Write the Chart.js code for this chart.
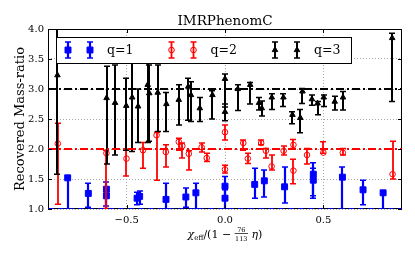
<!DOCTYPE html>
<html>
<head>
<meta charset="utf-8">
<script src="https://cdn.jsdelivr.net/npm/chart.js@4.4.0/dist/chart.umd.min.js"></script>
<style>
  html, body { margin: 0; padding: 0; background: #fff; }
</style>
</head>
<body>
<canvas id="massRatio" width="415" height="257"></canvas>
<script>
/* ===Recovered mass-ratio vs effective spin (IMRPhenomC)===
 * one array per quantity: x position, recovered value, lower / upper end of the error bar
 */
const xTicks = [-0.5, 0.0, 0.5];
const yTicks = [1.0, 1.5, 2.0, 2.5, 3.0, 3.5, 4.0];
const seriesNames = ['q=1', 'q=2', 'q=3'];
const trueRatios = [1.0, 2.0, 3.0];

// q=1
const q1X  = [-0.80, -0.695, -0.603, -0.603, -0.447, -0.434, -0.300, -0.199, -0.148, 0.0, 0.0, 0.151, 0.200, 0.303, 0.449, 0.449, 0.597, 0.702, 0.804];
const q1Y  = [1.52, 1.26, 1.33, 1.22, 1.18, 1.21, 1.16, 1.20, 1.27, 1.38, 1.18, 1.41, 1.47, 1.37, 1.58, 1.48, 1.53, 1.32, 1.27];
const q1Lo = [1.00, 1.03, 1.00, 1.05, 1.07, 1.08, 1.00, 1.03, 1.00, 1.15, 1.00, 1.18, 1.20, 1.10, 1.18, 1.22, 1.00, 1.07, 1.00];
const q1Hi = [1.54, 1.43, 1.45, 1.33, 1.28, 1.30, 1.43, 1.35, 1.43, 1.54, 1.32, 1.68, 1.65, 1.70, 1.77, 1.68, 1.70, 1.48, 1.30];

// q=2
const q2X  = [-0.850, -0.603, -0.501, -0.417, -0.348, -0.301, -0.235, -0.217, -0.184, -0.119, -0.093, 0.0, 0.0, 0.093, 0.116, 0.184, 0.208, 0.237, 0.298, 0.348, 0.348, 0.417, 0.500, 0.599, 0.852];
const q2Y  = [2.09, 1.93, 1.84, 1.98, 2.23, 1.95, 2.12, 2.05, 1.92, 2.03, 1.85, 2.28, 1.66, 2.10, 1.84, 2.10, 1.97, 1.71, 1.97, 2.07, 1.64, 1.90, 1.94, 1.94, 1.58];
const q2Lo = [1.08, 1.01, 1.55, 1.68, 1.48, 1.70, 1.98, 1.85, 1.65, 1.95, 1.79, 2.15, 1.60, 1.98, 1.76, 2.07, 1.85, 1.65, 1.90, 2.01, 1.42, 1.75, 1.93, 1.90, 1.50];
const q2Hi = [2.43, 1.98, 2.00, 2.11, 2.28, 2.07, 2.18, 2.10, 1.97, 2.10, 1.93, 2.40, 1.73, 2.15, 1.93, 2.15, 2.01, 1.90, 2.05, 2.16, 1.83, 2.01, 2.12, 2.01, 2.13];

// q=3
const q3X  = [-0.852, -0.602, -0.559, -0.502, -0.472, -0.442, -0.393, -0.385, -0.342, -0.298, -0.235, -0.187, -0.173, -0.128, -0.064, 0.0, 0.0, 0.065, 0.128, 0.173, 0.187, 0.238, 0.297, 0.343, 0.383, 0.394, 0.442, 0.471, 0.502, 0.558, 0.600, 0.850];
const q3Y  = [3.23, 2.85, 2.77, 2.72, 2.86, 2.71, 3.07, 2.93, 2.94, 2.75, 2.82, 3.04, 2.90, 2.68, 2.90, 3.17, 2.62, 3.00, 3.07, 2.77, 2.68, 2.86, 2.86, 2.57, 2.52, 2.96, 2.83, 2.76, 2.86, 2.79, 2.86, 3.85];
const q3Lo = [1.58, 1.75, 1.90, 1.98, 1.96, 2.11, 2.11, 2.13, 2.29, 2.29, 2.40, 2.48, 2.46, 2.46, 2.50, 2.70, 2.47, 2.64, 2.75, 2.65, 2.55, 2.66, 2.71, 2.42, 2.27, 2.76, 2.73, 2.57, 2.71, 2.65, 2.65, 2.79];
const q3Hi = [4.60, 3.38, 3.40, 3.18, 3.45, 3.00, 3.43, 3.40, 3.40, 2.94, 3.07, 3.18, 3.12, 2.86, 2.97, 3.25, 2.75, 3.07, 3.11, 2.86, 2.80, 2.92, 2.92, 2.62, 2.66, 3.01, 2.90, 2.79, 2.90, 2.88, 2.96, 3.93];

const X_MIN = -0.9, X_MAX = 0.9;
const SERIF = '"DejaVu Serif", serif';

function points(xs, ys) {
    return xs.map((x, i) => ({x: x, y: ys[i]}));
}

function flatLine(level) {
    return [{x: X_MIN, y: level}, {x: X_MAX, y: level}];
}

function fmtTick(v) {
    const s = Math.abs(v).toFixed(1);
    return v < 0 ? '\u2212' + s : s;
}

function errorBar(ctx, x, yLo, yHi, color, lw, cap) {
    ctx.strokeStyle = color;
    ctx.lineWidth = lw;
    ctx.beginPath();
    ctx.moveTo(x, yLo); ctx.lineTo(x, yHi);
    ctx.stroke();
    ctx.lineWidth = 1.5;
    ctx.beginPath();
    ctx.moveTo(x - cap, yLo); ctx.lineTo(x + cap, yLo);
    ctx.moveTo(x - cap, yHi); ctx.lineTo(x + cap, yHi);
    ctx.stroke();
}

function marker(ctx, ds, x, y) {
    ctx.save();
    ctx.fillStyle = ds.pointBackgroundColor;
    ctx.strokeStyle = ds.pointBorderColor;
    ctx.lineWidth = ds.pointBorderWidth;
    Chart.helpers.drawPoint(ctx, {
        pointStyle: ds.pointStyle, radius: ds.pointRadius, rotation: 0, borderWidth: ds.pointBorderWidth
    }, x, y);
    ctx.restore();
}

const q1Set = {
    label: seriesNames[0], data: points(q1X, q1Y), errLo: q1Lo, errHi: q1Hi,
    pointStyle: 'rect', pointRadius: 4.2, pointBackgroundColor: '#0000ff', pointBorderColor: '#0000ff',
    pointBorderWidth: 1, errColor: '#0000ff', errWidth: 2.2, order: 6
};
const q2Set = {
    label: seriesNames[1], data: points(q2X, q2Y), errLo: q2Lo, errHi: q2Hi,
    pointStyle: 'circle', pointRadius: 2.8, pointBackgroundColor: 'rgba(0,0,0,0)', pointBorderColor: '#ff0000',
    pointBorderWidth: 1, errColor: '#ff0000', errWidth: 1.8, order: 5
};
const q3Set = {
    label: seriesNames[2], data: points(q3X, q3Y), errLo: q3Lo, errHi: q3Hi,
    pointStyle: 'triangle', pointRadius: 3.2, pointBackgroundColor: '#000000', pointBorderColor: '#000000',
    pointBorderWidth: 1, errColor: '#000000', errWidth: 2, order: 4
};
const lineColors = ['#0000cc', '#ff0000', '#000000'];
const lineDashes = [[6, 4], [8, 3, 2, 3], [8, 3, 2, 3]];
const refSets = trueRatios.map((lvl, i) => ({
    label: 'true q=' + lvl, data: flatLine(lvl), showLine: true, pointRadius: 0,
    borderColor: lineColors[i], borderWidth: 2, borderDash: lineDashes[i], order: 3 - i
}));

const chartDecor = {
    id: 'chartDecor',
    beforeDatasetsDraw(chart) {
        const a = chart.chartArea, ctx = chart.ctx;
        ctx.save();
        ctx.strokeStyle = '#000';
        ctx.lineWidth = 1;
        ctx.strokeRect(a.left + 0.5, a.top + 0.5, a.right - a.left - 1, a.bottom - a.top - 1);
        ctx.restore();
    },
    beforeDatasetDraw(chart, args) {
        const ds = chart.data.datasets[args.index];
        if (!ds.errLo) return;
        const ctx = chart.ctx, a = chart.chartArea;
        const xs = chart.scales.x, ys = chart.scales.y;
        ctx.save();
        ctx.beginPath();
        ctx.rect(a.left, a.top, a.right - a.left, a.bottom - a.top);
        ctx.clip();
        ds.data.forEach((p, i) => {
            const px = Math.round(xs.getPixelForValue(p.x));
            errorBar(ctx, px, ys.getPixelForValue(ds.errLo[i]), ys.getPixelForValue(ds.errHi[i]), ds.errColor, ds.errWidth, 3);
        });
        ctx.restore();
    },
    afterDraw(chart) {
        const ctx = chart.ctx, a = chart.chartArea;
        const xs = chart.scales.x, ys = chart.scales.y;
        ctx.save();

        // inward ticks on all four sides
        ctx.strokeStyle = '#000';
        ctx.lineWidth = 1;
        ctx.beginPath();
        xTicks.forEach(v => {
            const px = Math.round(xs.getPixelForValue(v)) + 0.5;
            ctx.moveTo(px, a.bottom); ctx.lineTo(px, a.bottom - 4);
            ctx.moveTo(px, a.top); ctx.lineTo(px, a.top + 4);
        });
        yTicks.forEach(v => {
            const py = Math.round(ys.getPixelForValue(v)) + 0.5;
            ctx.moveTo(a.left, py); ctx.lineTo(a.left + 4, py);
            ctx.moveTo(a.right, py); ctx.lineTo(a.right - 4, py);
        });
        ctx.stroke();

        // title
        ctx.fillStyle = '#000';
        ctx.font = '13.5px ' + SERIF;
        ctx.textAlign = 'center';
        ctx.textBaseline = 'alphabetic';
        ctx.fillText('IMRPhenomC', (a.left + a.right) / 2, 24.5);

        // y label
        ctx.save();
        ctx.translate(24, (a.top + a.bottom) / 2);
        ctx.rotate(-Math.PI / 2);
        ctx.font = '13px ' + SERIF;
        ctx.fillText('Recovered Mass-ratio', 0, 0);
        ctx.restore();

        // x label: chi_eff / (1 - 76/113 eta)
        const base = 237.5;
        const big = '11px ' + SERIF, ital = 'italic 11px ' + SERIF, small = '7px ' + SERIF, tiny = '6.5px ' + SERIF;
        const parts = [
            {t: '\u03c7', f: ital, dy: 0},
            {t: 'eff', f: small, dy: 2.5},
            {t: '/(1 \u2212 ', f: big, dy: 0},
            {num: '76', den: '113', f: tiny},
            {t: ' \u03b7', f: ital, dy: 0},
            {t: ')', f: big, dy: 0}
        ];
        let total = 0;
        parts.forEach(p => {
            ctx.font = p.f;
            p.w = p.num ? Math.max(ctx.measureText(p.num).width, ctx.measureText(p.den).width) + 1 : ctx.measureText(p.t).width;
            total += p.w;
        });
        let cx = (a.left + a.right) / 2 - total / 2;
        ctx.textAlign = 'left';
        parts.forEach(p => {
            ctx.font = p.f;
            if (p.num) {
                ctx.textAlign = 'center';
                ctx.fillText(p.num, cx + p.w / 2, base - 5.5);
                ctx.fillText(p.den, cx + p.w / 2, base + 3);
                ctx.fillRect(cx, base - 4.5, p.w, 0.7);
                ctx.textAlign = 'left';
            } else {
                ctx.fillText(p.t, cx, base + p.dy);
            }
            cx += p.w;
        });

        // legend
        const lx = 56, ly = 37, lw = 295, lh = 26, step = 103.5, my = ly + 13;
        ctx.fillStyle = '#fff';
        ctx.fillRect(lx, ly, lw, lh);
        ctx.strokeStyle = '#000';
        ctx.lineWidth = 1;
        ctx.strokeRect(lx + 0.5, ly + 0.5, lw, lh);
        [q1Set, q2Set, q3Set].forEach((ds, i) => {
            const ex = lx + i * step;
            [12, 34].forEach(off => {
                errorBar(ctx, ex + off, my + 8, my - 8, ds.errColor, ds.errWidth, 3);
                marker(ctx, ds, ex + off, my);
            });
            ctx.fillStyle = '#000';
            ctx.font = '12.5px ' + SERIF;
            ctx.textAlign = 'left';
            ctx.textBaseline = 'middle';
            ctx.fillText(ds.label, ex + 51, my + 0.5);
            ctx.textBaseline = 'alphabetic';
        });
        ctx.restore();
    }
};

const ctx = document.getElementById('massRatio');
new Chart(ctx, {
    type: 'scatter',
    data: {
        datasets: [q1Set, q2Set, q3Set].concat(refSets)
    },
    options: {
        responsive: false,
        animation: false,
        events: [],
        layout: {
            padding: {top: 29, right: 13, left: 0, bottom: 0}
        },
        scales: {
            x: {
                type: 'linear',
                min: X_MIN,
                max: X_MAX,
                afterBuildTicks: (scale) => { scale.ticks = xTicks.map(v => ({value: v})); },
                afterFit: (scale) => { scale.height = 48; },
                grid: {color: '#a8a8a8', lineWidth: 1, drawTicks: false},
                border: {display: false, dash: [1, 2]},
                ticks: {
                    color: '#000', padding: 5, maxRotation: 0,
                    font: {family: SERIF, size: 10},
                    callback: (v) => fmtTick(v)
                }
            },
            y: {
                type: 'linear',
                min: 1,
                max: 4,
                afterBuildTicks: (scale) => { scale.ticks = yTicks.map(v => ({value: v})); },
                afterFit: (scale) => { scale.width = 48; },
                grid: {color: '#a8a8a8', lineWidth: 1, drawTicks: false},
                border: {display: false, dash: [1, 2]},
                ticks: {
                    color: '#000', padding: 4,
                    font: {family: SERIF, size: 10},
                    callback: (v) => fmtTick(v)
                }
            }
        },
        plugins: {
            legend: {display: false},
            tooltip: {enabled: false}
        }
    },
    plugins: [chartDecor]
});
</script>
</body>
</html>
